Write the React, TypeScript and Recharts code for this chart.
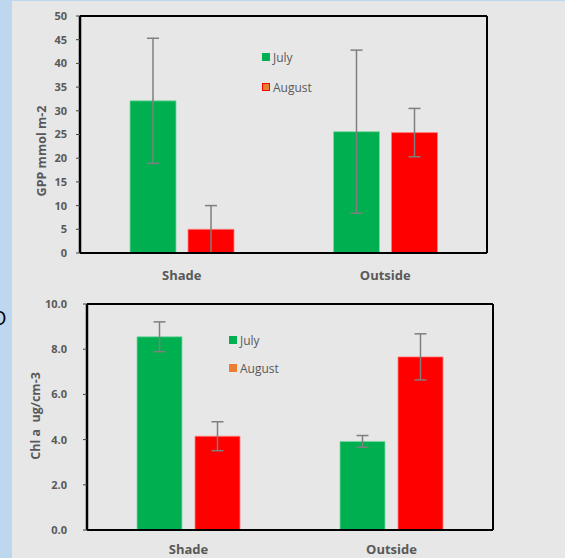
import React from "react";
import { BarChart, Bar, XAxis, YAxis, ErrorBar, ReferenceLine } from "recharts";

// Sites and seasonal means (± SD)
const sites = ["Shade", "Outside"];
const gppJuly = [32.1, 25.6];
const gppJulyErr = [13.2, 17.2];
const gppAug = [5.0, 25.4];
const gppAugErr = [5.0, 5.1];
const chlJuly = [8.55, 3.92];
const chlJulyErr = [0.66, 0.26];
const chlAug = [4.15, 7.66];
const chlAugErr = [0.64, 1.02];

const gppTicks = [0, 5, 10, 15, 20, 25, 30, 35, 40, 45, 50];
const chlTicks = [0, 2, 4, 6, 8, 10];

const legendNames = ["July", "August"];
const legendFills = ["#00B050", "#ED7D31"];

const GREEN = "#00B050";
const RED = "#FF0000";
const TEXT = "#595959";
const ERR = "#7F7F7F";
const FONT = "'Open Sans', 'DejaVu Sans', sans-serif";

const gppData = sites.map((site, i) => ({
  site,
  july: gppJuly[i],
  julyErr: gppJulyErr[i],
  aug: gppAug[i],
  augErr: gppAugErr[i],
}));

const chlData = sites.map((site, i) => ({
  site,
  july: chlJuly[i],
  julyErr: chlJulyErr[i],
  aug: chlAug[i],
  augErr: chlAugErr[i],
}));

const siteTick = (dy: number) => (props: any) => (
  <text
    x={props.x}
    y={props.y + dy}
    textAnchor="middle"
    dominantBaseline="central"
    fill={TEXT}
    fontWeight="bold"
    fontSize={13}
    fontFamily={FONT}
  >
    {props.payload.value}
  </text>
);

const axisTitle = (text: string, x: number, y: number) => () => (
  <text
    transform={`translate(${x},${y}) rotate(-90)`}
    textAnchor="middle"
    dominantBaseline="central"
    fill={TEXT}
    fontWeight="bold"
    fontSize={12.5}
    fontFamily={FONT}
    style={{ whiteSpace: "pre" }}
  >
    {text}
  </text>
);

function LegendBox({ left, top, gap, outlineAugust }: { left: number; top: number; gap: number; outlineAugust: boolean }) {
  return (
    <div style={{ position: "absolute", left, top, fontFamily: FONT, fontSize: 12, color: TEXT }}>
      {legendNames.map((name, i) => (
        <div
          key={name}
          style={{ position: "absolute", left: 0, top: i * gap, display: "flex", alignItems: "center", height: 16, whiteSpace: "nowrap" }}
        >
          <span
            style={{
              display: "inline-block",
              width: 8,
              height: 8,
              background: legendFills[i],
              boxSizing: "border-box",
              border: i === 1 && outlineAugust ? `1px solid ${RED}` : "none",
              marginRight: 3,
            }}
          />
          <span>{name}</span>
        </div>
      ))}
    </div>
  );
}

const tickStyle = { fill: TEXT, fontSize: 11, fontWeight: "bold", fontFamily: FONT } as const;

export default function App() {
  return (
    <div
      style={{
        position: "absolute",
        left: 0,
        top: 0,
        width: 565,
        height: 558,
        background: "#E7E7E7",
        borderTop: "1px solid #BDD7EE",
        boxSizing: "border-box",
        overflow: "hidden",
      }}
    >
      <div style={{ position: "absolute", left: 0, top: 0, width: 12, height: 558, background: "#BDD7EE" }} />
      <div style={{ position: "absolute", left: -9, top: 303, fontFamily: FONT, fontSize: 20, color: "#000" }}>O</div>

      {/* GPP panel */}
      <div style={{ position: "absolute", left: 0, top: -1 }}>
        <BarChart
          width={565}
          height={290}
          data={gppData}
          margin={{ top: 16, right: 76, left: 0, bottom: 7 }}
          barSize={46}
          barGap={12}
        >
          <XAxis
            dataKey="site"
            height={30}
            tickLine={false}
            tickSize={0}
            tickMargin={0}
            axisLine={{ stroke: "#000", strokeWidth: 2 }}
            tick={siteTick(22)}
          />
          <YAxis
            width={80}
            domain={[0, 50]}
            ticks={gppTicks}
            interval={0}
            tickSize={4}
            tickMargin={9}
            tickLine={{ stroke: "#404040" }}
            axisLine={{ stroke: "#000", strokeWidth: 2.5 }}
            tick={tickStyle}
            label={{ content: axisTitle("GPP mmol m-2", 41, 151) }}
          />
          <YAxis
            yAxisId="frame"
            orientation="right"
            width={2}
            domain={[0, 50]}
            tick={false}
            tickLine={false}
            axisLine={{ stroke: "#000", strokeWidth: 2 }}
          />
          <ReferenceLine y={50} stroke="#000" strokeWidth={2} />
          <Bar dataKey="july" fill={GREEN} stroke="#7FD7A7" strokeWidth={0.8} isAnimationActive={false}>
            <ErrorBar dataKey="julyErr" width={6} stroke={ERR} strokeWidth={1.5} direction="y" isAnimationActive={false} />
          </Bar>
          <Bar dataKey="aug" fill={RED} stroke="#FF8080" strokeWidth={0.8} isAnimationActive={false}>
            <ErrorBar dataKey="augErr" width={6} stroke={ERR} strokeWidth={1.5} direction="y" isAnimationActive={false} />
          </Bar>
        </BarChart>
        <LegendBox left={262} top={49} gap={30} outlineAugust />
      </div>

      {/* Chlorophyll a panel */}
      <div style={{ position: "absolute", left: 0, top: 290 }}>
        <BarChart
          width={565}
          height={268}
          data={chlData}
          margin={{ top: 13, right: 70, left: 0, bottom: 0 }}
          barSize={45}
          barGap={13}
        >
          <XAxis
            dataKey="site"
            height={29}
            tickLine={false}
            tickSize={0}
            tickMargin={0}
            axisLine={{ stroke: "#000", strokeWidth: 2 }}
            tick={siteTick(18.5)}
          />
          <YAxis
            width={87}
            domain={[0, 10]}
            ticks={chlTicks}
            interval={0}
            tickSize={4}
            tickMargin={16}
            tickLine={{ stroke: "#404040" }}
            axisLine={{ stroke: "#000", strokeWidth: 2.5 }}
            tick={tickStyle}
            tickFormatter={(v: number) => v.toFixed(1)}
            label={{ content: axisTitle("Chl a\u00a0 ug/cm-3", 35, 125) }}
          />
          <YAxis
            yAxisId="frame"
            orientation="right"
            width={2}
            domain={[0, 10]}
            tick={false}
            tickLine={false}
            axisLine={{ stroke: "#000", strokeWidth: 2 }}
          />
          <ReferenceLine y={10} stroke="#000" strokeWidth={2} />
          <Bar dataKey="july" fill={GREEN} stroke="#7FD7A7" strokeWidth={0.8} isAnimationActive={false}>
            <ErrorBar dataKey="julyErr" width={6} stroke={ERR} strokeWidth={1.5} direction="y" isAnimationActive={false} />
          </Bar>
          <Bar dataKey="aug" fill={RED} stroke="#FF8080" strokeWidth={0.8} isAnimationActive={false}>
            <ErrorBar dataKey="augErr" width={6} stroke={ERR} strokeWidth={1.5} direction="y" isAnimationActive={false} />
          </Bar>
        </BarChart>
        <LegendBox left={229} top={41} gap={28} outlineAugust={false} />
      </div>
    </div>
  );
}
